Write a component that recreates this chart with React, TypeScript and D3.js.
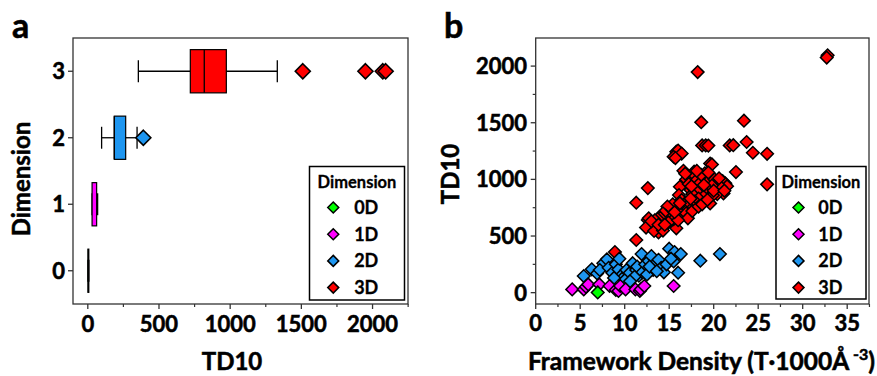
import React from "react";
import * as d3 from "d3";

// ---------- Panel a: box plot summary per dimension ----------
const dims = [0, 1, 2, 3];
const dimColors = ["#00ff00", "#ff00ff", "#1e96f0", "#ff0000"];
const boxQ1 = [1, 30, 186, 720];
const boxMedian = [4, 45, 186, 818];
const boxQ3 = [7, 62, 266, 973];
const whiskerLow = [1, 30, 97, 355];
const whiskerHigh = [7, 69, 346, 1331];
const outliers: [number, number][] = [
  [2, 390],
  [3, 1510],
  [3, 1950],
  [3, 2072],
  [3, 2092],
];
const legendLabels = ["0D", "1D", "2D", "3D"];
const xTicksA = [0, 500, 1000, 1500, 2000];
const xMinorA = [250, 750, 1250, 1750, 2250];

// ---------- Panel b: scatter TD10 vs framework density ----------
const pts0D: [number, number][] = [[6.97, 2]];
const pts1D: [number, number][] = [
  [4.1, 29], [5.4, 29], [5.65, 53], [5.9, 73], [7.15, 73], [8.3, 59], [9.0, 24],
  [9.3, 15], [9.5, 59], [10.1, 29], [11.2, 29], [11.7, 15], [11.8, 29], [12.2, 59], [15.5, 59],
];
const pts2D: [number, number][] = [
  [5.4, 147], [6.3, 206], [6.9, 170], [7.6, 259], [8.0, 294], [7.2, 200], [8.2, 220],
  [8.6, 175], [9.0, 250], [9.3, 205], [9.6, 150], [9.8, 130], [10.2, 200], [10.5, 170],
  [10.9, 260], [11.3, 200], [11.6, 150], [11.9, 341], [11.4, 230], [12.0, 180], [12.3, 250],
  [12.7, 280], [13.0, 323], [13.2, 200], [13.5, 260], [13.8, 290], [14.1, 220], [14.4, 180],
  [14.7, 250], [15.0, 388], [15.6, 359], [16.3, 341], [15.5, 276], [16.0, 176], [15.2, 300],
  [18.5, 282], [20.7, 341], [8.8, 130], [10.0, 110], [11.1, 140], [12.5, 160], [9.4, 300],
  [10.6, 100], [12.8, 230], [13.6, 190],
];
const pts3D: [number, number][] = [
  [32.8, 2095], [32.7, 2075], [18.2, 1947], [18.6, 1505], [23.4, 1518], [18.7, 1300],
  [19.1, 1300], [19.4, 1298], [21.8, 1300], [22.2, 1302], [23.7, 1330], [24.4, 1235],
  [26.0, 1226], [15.8, 1245], [16.0, 1255], [16.4, 1228], [15.5, 1200], [15.7, 1188],
  [19.6, 1140], [19.8, 1132], [22.5, 1065], [26.0, 956], [12.6, 923], [11.3, 794],
  [11.3, 465], [8.9, 359], [12.6, 641], [12.7, 656], [12.4, 575], [13.8, 532], [13.3, 545],
  [14.3, 548], [15.8, 568],
  [16.6, 1076], [17.8, 1068], [19.0, 1053], [17.9, 1030], [18.4, 1010], [16.9, 1000],
  [18.0, 988], [18.5, 971], [19.5, 990], [20.1, 1000], [20.5, 975], [21.0, 985], [21.3, 965],
  [21.5, 940], [20.8, 930], [19.8, 945], [19.2, 920], [18.8, 900], [16.2, 935], [17.4, 906],
  [18.1, 891], [17.6, 870], [21.1, 876], [20.4, 870], [19.9, 860], [19.6, 788], [18.85, 847],
  [18.3, 830], [17.9, 805], [17.3, 780], [16.1, 862], [16.4, 818], [16.8, 790], [17.0, 760],
  [17.7, 755], [16.5, 740], [16.0, 760], [15.7, 735], [15.4, 780], [15.2, 720], [15.0, 700],
  [14.8, 760], [14.6, 680], [14.3, 700], [14.0, 660], [13.7, 650], [13.4, 640], [13.0, 630],
  [15.9, 700], [16.3, 690], [16.9, 700], [17.1, 656], [17.6, 720], [18.3, 760], [18.7, 780],
  [19.3, 820], [20.0, 900], [17.2, 960], [18.6, 1040], [19.4, 1060], [16.8, 1050], [15.5, 650],
  [14.9, 620], [13.8, 600], [14.5, 600], [16.0, 640], [17.5, 940], [18.1, 1075], [20.6, 1010],
  [21.2, 900], [15.6, 710], [16.2, 790], [17.4, 830], [18.9, 950],
];
const xTicksB = [0, 5, 10, 15, 20, 25, 30, 35];
const xMinorB = [2.5, 7.5, 12.5, 17.5, 22.5, 27.5, 32.5, 37.5];
const yTicksB = [0, 500, 1000, 1500, 2000];
const yMinorB = [250, 750, 1250, 1750];

const FONT = "Lato, 'Open Sans', sans-serif";
const heavy = { fontFamily: FONT, fontWeight: 700, stroke: "#000", strokeWidth: 0.55 } as const;
const diamond = (r: number) => `M0,${-r}L${r},0L0,${r}L${-r},0Z`;

function Legend({ x, y, w, h }: { x: number; y: number; w: number; h: number }) {
  return (
    <g transform={`translate(${x},${y})`}>
      <rect width={w} height={h} fill="#fff" stroke="#000" strokeWidth={1.5} />
      <text x={w / 2} y={21} textAnchor="middle" {...heavy} strokeWidth={0.3} fontSize={16.5}>
        Dimension
      </text>
      {legendLabels.map((l, i) => (
        <g key={l} transform={`translate(0,${41 + i * 26.7})`}>
          <path d={diamond(5.5)} transform={`translate(${w * 0.25},0)`} fill={dimColors[i]} stroke="#000" strokeWidth={1.5} />
          <text x={w * 0.47} y={6.5} {...heavy} strokeWidth={0.3} fontSize={18}>
            {l}
          </text>
        </g>
      ))}
    </g>
  );
}

export default function App() {
  const xA = d3.scaleLinear().domain([-104, 2249]).range([73, 408]);
  const yA = d3.scaleLinear().domain([-0.5, 3.5]).range([304, 38]);
  const xB = d3.scaleLinear().domain([0, 37.45]).range([535.7, 869]);
  const yB = d3.scaleLinear().domain([-100, 2248]).range([304, 38]);
  const halfBox = Math.abs(yA(0) - yA(0.325));
  const halfCap = Math.abs(yA(0) - yA(0.165));
  const axisColor = "#333";

  const scatter = (pts: [number, number][], color: string, key: string) =>
    pts.map((p, i) => (
      <path key={key + i} d={diamond(6.3)} transform={`translate(${xB(p[0])},${yB(p[1])})`} fill={color} stroke="#000" strokeWidth={1.5} />
    ));

  return (
    <div style={{ position: "fixed", left: 0, top: 0 }}>
      <svg width={877} height={376} style={{ display: "block", background: "#fff" }}>
        {/* ---------- panel a ---------- */}
        <text x={12} y={38} {...heavy} fontSize={34}>a</text>
        <rect x={73} y={38} width={335} height={266} fill="none" stroke={axisColor} strokeWidth={1.3} />
        {xTicksA.map((t) => (
          <g key={"xa" + t}>
            <line x1={xA(t)} x2={xA(t)} y1={304} y2={309} stroke={axisColor} strokeWidth={1.3} />
            <text x={xA(t)} y={332} textAnchor="middle" {...heavy} fontSize={22}>{t}</text>
          </g>
        ))}
        {xMinorA.map((t) => (
          <line key={"xam" + t} x1={xA(t)} x2={xA(t)} y1={304} y2={307} stroke={axisColor} strokeWidth={1.2} />
        ))}
        {dims.map((d) => (
          <g key={"ya" + d}>
            <line x1={68} x2={73} y1={yA(d)} y2={yA(d)} stroke={axisColor} strokeWidth={1.3} />
            <text x={65} y={yA(d) + 8} textAnchor="end" {...heavy} fontSize={22}>{d}</text>
          </g>
        ))}
        <text transform={`translate(30,179) rotate(-90)`} textAnchor="middle" {...heavy} fontSize={24}>Dimension</text>
        <text x={232} y={370} textAnchor="middle" {...heavy} fontSize={24}>TD10</text>

        {dims.map((d, i) => {
          const cy = yA(d);
          return (
            <g key={"box" + d}>
              <line x1={xA(whiskerLow[i])} x2={xA(boxQ1[i])} y1={cy} y2={cy} stroke="#000" strokeWidth={1.3} />
              <line x1={xA(boxQ3[i])} x2={xA(whiskerHigh[i])} y1={cy} y2={cy} stroke="#000" strokeWidth={1.3} />
              <line x1={xA(whiskerLow[i])} x2={xA(whiskerLow[i])} y1={cy - halfCap} y2={cy + halfCap} stroke="#000" strokeWidth={1.3} />
              <line x1={xA(whiskerHigh[i])} x2={xA(whiskerHigh[i])} y1={cy - halfCap} y2={cy + halfCap} stroke="#000" strokeWidth={1.3} />
              <rect x={xA(boxQ1[i])} y={cy - halfBox} width={Math.max(0.5, xA(boxQ3[i]) - xA(boxQ1[i]))} height={2 * halfBox} fill={dimColors[i]} stroke="#000" strokeWidth={1.2} />
              <line x1={xA(boxMedian[i])} x2={xA(boxMedian[i])} y1={cy - halfBox} y2={cy + halfBox} stroke="#000" strokeWidth={d === 1 ? 0 : 1.3} />
            </g>
          );
        })}
        {outliers.map((o, i) => (
          <path key={"out" + i} d={diamond(7.5)} transform={`translate(${xA(o[1])},${yA(o[0])})`} fill={dimColors[o[0]]} stroke="#000" strokeWidth={1.6} />
        ))}
        <Legend x={309.5} y={166.5} w={95} h={133.5} />

        {/* ---------- panel b ---------- */}
        <text x={444} y={38} {...heavy} fontSize={34}>b</text>
        <rect x={535.7} y={38} width={333.3} height={266} fill="none" stroke={axisColor} strokeWidth={1.3} />
        {xTicksB.map((t) => (
          <g key={"xb" + t}>
            <line x1={xB(t)} x2={xB(t)} y1={304} y2={309} stroke={axisColor} strokeWidth={1.3} />
            <text x={xB(t)} y={331} textAnchor="middle" {...heavy} fontSize={22}>{t}</text>
          </g>
        ))}
        {xMinorB.map((t) => (
          <line key={"xbm" + t} x1={xB(t)} x2={xB(t)} y1={304} y2={307} stroke={axisColor} strokeWidth={1.2} />
        ))}
        {yTicksB.map((t) => (
          <g key={"yb" + t}>
            <line x1={530.7} x2={535.7} y1={yB(t)} y2={yB(t)} stroke={axisColor} strokeWidth={1.3} />
            <text x={527} y={yB(t) + 8} textAnchor="end" {...heavy} fontSize={22}>{t}</text>
          </g>
        ))}
        {yMinorB.map((t) => (
          <line key={"ybm" + t} x1={532.7} x2={535.7} y1={yB(t)} y2={yB(t)} stroke={axisColor} strokeWidth={1.2} />
        ))}
        <text transform={`translate(459,174) rotate(-90)`} textAnchor="middle" {...heavy} fontSize={24}>TD10</text>
        <text x={528} y={370} {...heavy} fontSize={24.5}>
          Framework Density (T·1000Å
          <tspan fontSize={16} dy={-10}> -3</tspan>
          <tspan dy={10}>)</tspan>
        </text>

        {scatter(pts3D, dimColors[3], "r")}
        {scatter(pts2D, dimColors[2], "b")}
        {scatter(pts1D, dimColors[1], "m")}
        {scatter(pts0D, dimColors[0], "g")}
        <Legend x={776} y={166.5} w={90} h={132.5} />
      </svg>
    </div>
  );
}
